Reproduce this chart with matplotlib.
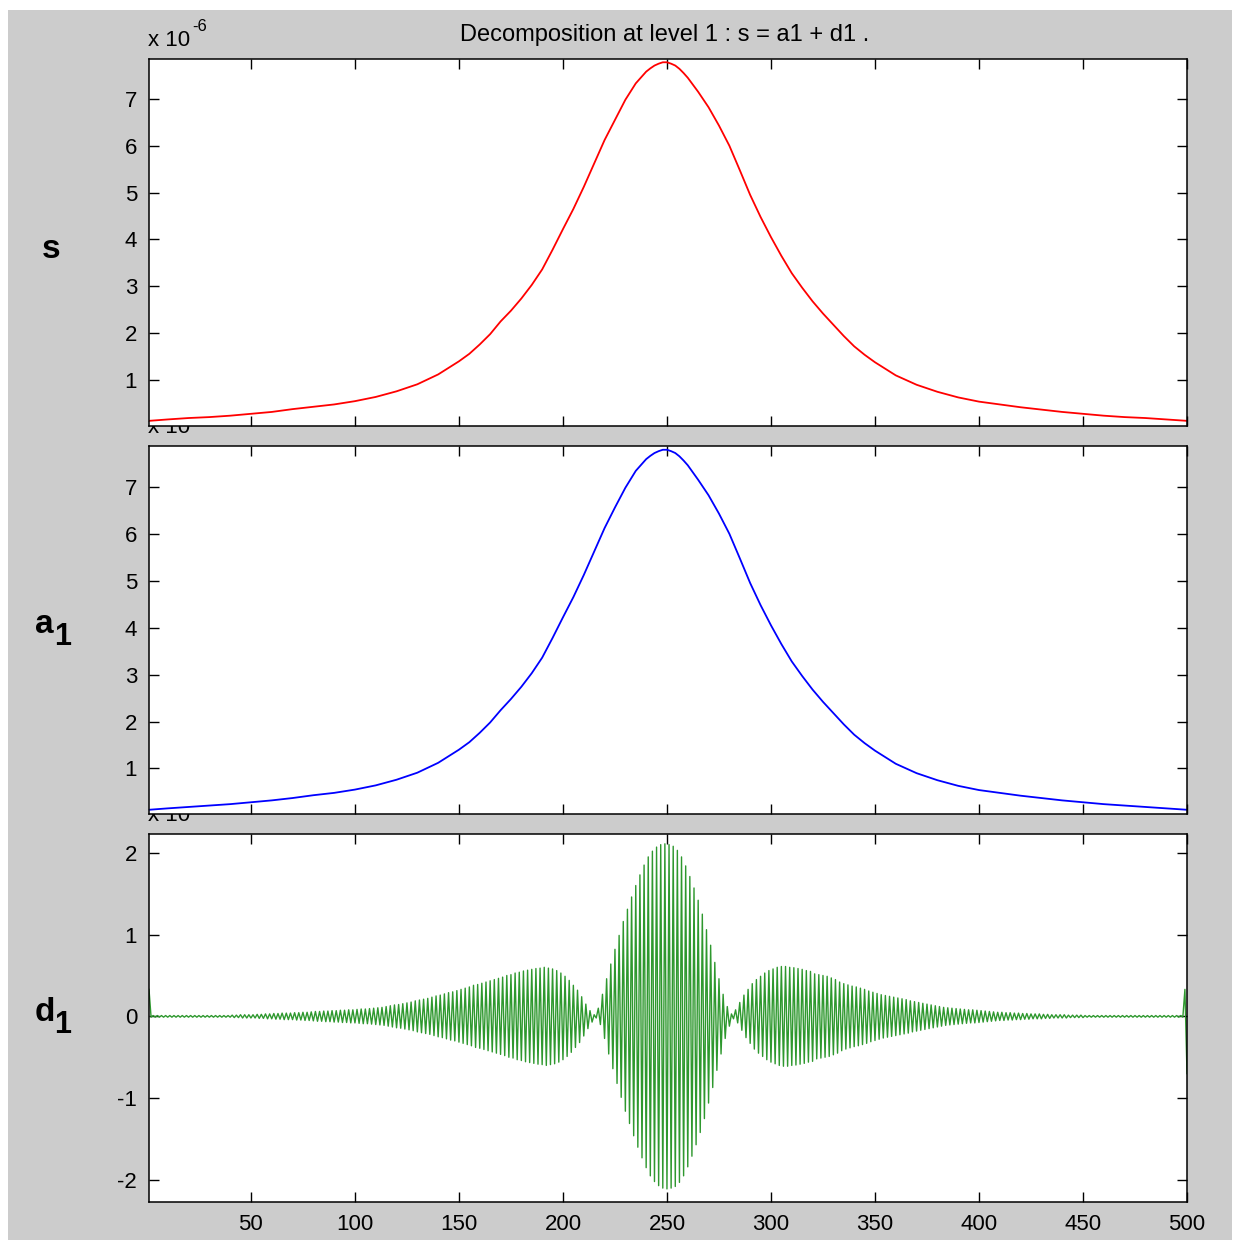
import numpy as np
import matplotlib.pyplot as plt
from matplotlib.patches import Rectangle

W, H = 1237, 1244

# signal s and approximation a1, in units of 1e-6
s_x = [1, 10, 20, 30, 40, 50, 60, 70, 80, 90, 100, 110, 120, 130, 140,
       150, 155, 160, 165, 170, 175, 180, 185, 190, 195, 200, 205, 210, 215,
       220, 225, 230, 235, 240, 242, 244, 246, 248, 250, 252, 254, 256, 258,
       260, 265, 270, 275, 280, 285, 290, 295, 300, 305, 310, 315, 320, 325,
       330, 335, 340, 345, 350, 360, 370, 380, 390, 400, 410, 420, 430, 440,
       450, 460, 470, 480, 490, 500]
s_val = [0.13, 0.16, 0.19, 0.21, 0.24, 0.28, 0.32, 0.38, 0.43, 0.48, 0.55,
         0.64, 0.76, 0.91, 1.12,
         1.40, 1.56, 1.76, 1.98, 2.25, 2.48, 2.74, 3.03, 3.36, 3.78, 4.22,
         4.65, 5.12, 5.62,
         6.12, 6.55, 6.98, 7.33, 7.58, 7.65, 7.71, 7.75, 7.78, 7.78, 7.75,
         7.71, 7.64, 7.55,
         7.45, 7.15, 6.82, 6.43, 6.00, 5.48, 4.95, 4.48, 4.05, 3.65, 3.28,
         2.97, 2.68, 2.42,
         2.18, 1.94, 1.72, 1.54, 1.38, 1.10, 0.90, 0.75, 0.63, 0.54, 0.48,
         0.42, 0.37, 0.32,
         0.28, 0.24, 0.21, 0.19, 0.16, 0.13]
a1_val = [0.12, 0.15, 0.18, 0.21, 0.24, 0.28, 0.32, 0.37, 0.43, 0.48, 0.55,
          0.64, 0.76, 0.91, 1.12,
          1.40, 1.56, 1.76, 1.98, 2.24, 2.48, 2.74, 3.03, 3.36, 3.78, 4.22,
          4.65, 5.12, 5.62,
          6.12, 6.56, 6.98, 7.34, 7.59, 7.66, 7.72, 7.76, 7.79, 7.79, 7.76,
          7.72, 7.65, 7.56,
          7.46, 7.15, 6.82, 6.43, 6.00, 5.48, 4.95, 4.48, 4.05, 3.65, 3.28,
          2.97, 2.68, 2.42,
          2.18, 1.94, 1.72, 1.54, 1.38, 1.10, 0.90, 0.75, 0.63, 0.54, 0.48,
          0.42, 0.37, 0.32,
          0.28, 0.24, 0.21, 0.18, 0.15, 0.12]

# detail d1: odd samples (1, 3, ..., 499) and even samples (2, 4, ..., 500)
d1_odd = [
    0.33, 0.01, 0.01, 0.01, 0.01, 0.01, 0.01, 0.01, 0.01, 0.01,
    0.01, 0.01, 0.01, 0.01, 0.01, 0.01, 0.01, 0.01, 0.01, 0.01,
    0.015, 0.015, 0.02, 0.02, 0.02, 0.02, 0.025, 0.025, 0.03, 0.03,
    0.035, 0.035, 0.04, 0.04, 0.04, 0.045, 0.045, 0.05, 0.05, 0.055,
    0.06, 0.06, 0.065, 0.065, 0.07, 0.07, 0.075, 0.075, 0.08, 0.08,
    0.085, 0.09, 0.09, 0.095, 0.10, 0.105, 0.11, 0.12, 0.13, 0.14,
    0.145, 0.155, 0.165, 0.175, 0.19, 0.20, 0.21, 0.22, 0.235, 0.25,
    0.26, 0.275, 0.29, 0.30, 0.315, 0.33, 0.345, 0.36, 0.38, 0.39,
    0.405, 0.42, 0.435, 0.45, 0.465, 0.48, 0.50, 0.51, 0.53, 0.54,
    0.555, 0.565, 0.575, 0.585, 0.59, 0.60, 0.59, 0.58, 0.56, 0.53,
    0.49, 0.44, 0.38, 0.32, 0.24, 0.15, 0.07, 0.02, 0.10, 0.27,
    0.46, 0.64, 0.82, 0.99, 1.16, 1.31, 1.46, 1.60, 1.73, 1.85,
    1.95, 2.02, 2.07, 2.10, 2.11, 2.10, 2.08, 2.03, 1.95, 1.84,
    1.71, 1.57, 1.42, 1.25, 1.06, 0.87, 0.66, 0.46, 0.27, 0.12,
    0.03, 0.08, 0.17, 0.26, 0.33, 0.40, 0.45, 0.49, 0.53, 0.56,
    0.58, 0.60, 0.61, 0.61, 0.60, 0.595, 0.585, 0.575, 0.56, 0.55,
    0.52, 0.51, 0.50, 0.49, 0.47, 0.45, 0.42, 0.40, 0.385, 0.37,
    0.36, 0.345, 0.33, 0.31, 0.295, 0.28, 0.265, 0.255, 0.245, 0.235,
    0.225, 0.215, 0.205, 0.19, 0.18, 0.17, 0.16, 0.15, 0.14, 0.13,
    0.12, 0.11, 0.105, 0.10, 0.095, 0.09, 0.085, 0.08, 0.08, 0.075,
    0.07, 0.065, 0.06, 0.055, 0.05, 0.05, 0.045, 0.045, 0.04, 0.04,
    0.035, 0.035, 0.03, 0.03, 0.03, 0.025, 0.025, 0.02, 0.02, 0.02,
    0.02, 0.015, 0.015, 0.015, 0.015, 0.01, 0.01, 0.01, 0.01, 0.01,
    0.01, 0.01, 0.01, 0.01, 0.01, 0.01, 0.01, 0.01, 0.01, 0.01,
    0.01, 0.01, 0.01, 0.01, 0.01, 0.01, 0.01, 0.01, 0.01, 0.33,
]
d1_even = [
    -0.01, -0.01, -0.01, -0.01, -0.01, -0.01, -0.01, -0.01, -0.01, -0.01,
    -0.01, -0.01, -0.01, -0.01, -0.01, -0.01, -0.01, -0.01, -0.01, -0.01,
    -0.015, -0.015, -0.02, -0.02, -0.02, -0.02, -0.025, -0.025, -0.03, -0.03,
    -0.035, -0.035, -0.04, -0.04, -0.04, -0.045, -0.045, -0.05, -0.05, -0.055,
    -0.06, -0.06, -0.065, -0.065, -0.07, -0.07, -0.075, -0.075, -0.08, -0.08,
    -0.085, -0.09, -0.09, -0.095, -0.10, -0.105, -0.11, -0.12, -0.13, -0.14,
    -0.145, -0.155, -0.165, -0.175, -0.19, -0.20, -0.21, -0.22, -0.235, -0.25,
    -0.26, -0.275, -0.29, -0.30, -0.315, -0.33, -0.345, -0.36, -0.38, -0.39,
    -0.405, -0.42, -0.435, -0.45, -0.465, -0.48, -0.50, -0.51, -0.53, -0.54,
    -0.555, -0.565, -0.575, -0.585, -0.59, -0.60, -0.59, -0.58, -0.56, -0.53,
    -0.49, -0.44, -0.38, -0.32, -0.24, -0.15, -0.07, -0.02, -0.10, -0.27,
    -0.46, -0.64, -0.82, -0.99, -1.16, -1.31, -1.46, -1.60, -1.73, -1.85,
    -1.95, -2.02, -2.07, -2.10, -2.11, -2.10, -2.08, -2.03, -1.95, -1.84,
    -1.71, -1.57, -1.42, -1.25, -1.06, -0.87, -0.66, -0.46, -0.27, -0.12,
    -0.03, -0.08, -0.17, -0.26, -0.33, -0.40, -0.45, -0.49, -0.53, -0.56,
    -0.58, -0.60, -0.61, -0.61, -0.60, -0.595, -0.585, -0.575, -0.56, -0.55,
    -0.52, -0.51, -0.50, -0.49, -0.47, -0.45, -0.42, -0.40, -0.385, -0.37,
    -0.36, -0.345, -0.33, -0.31, -0.295, -0.28, -0.265, -0.255, -0.245, -0.235,
    -0.225, -0.215, -0.205, -0.19, -0.18, -0.17, -0.16, -0.15, -0.14, -0.13,
    -0.12, -0.11, -0.105, -0.10, -0.095, -0.09, -0.085, -0.08, -0.08, -0.075,
    -0.07, -0.065, -0.06, -0.055, -0.05, -0.05, -0.045, -0.045, -0.04, -0.04,
    -0.035, -0.035, -0.03, -0.03, -0.03, -0.025, -0.025, -0.02, -0.02, -0.02,
    -0.02, -0.015, -0.015, -0.015, -0.015, -0.01, -0.01, -0.01, -0.01, -0.01,
    -0.01, -0.01, -0.01, -0.01, -0.01, -0.01, -0.01, -0.01, -0.01, -0.01,
    -0.01, -0.01, -0.01, -0.01, -0.01, -0.01, -0.01, -0.01, -0.01, -0.70,
]

x_ticks = [50, 100, 150, 200, 250, 300, 350, 400, 450, 500]
level_ticks = [1, 2, 3, 4, 5, 6, 7]
detail_ticks = [-2, -1, 0, 1, 2]

title = 'Decomposition at level 1 : s = a1 + d1 .'
gray = '#cccccc'

plt.rcParams['font.family'] = ['Liberation Sans', 'DejaVu Sans']
plt.rcParams['axes.unicode_minus'] = False


def px_axes(fig, left, top, right, bottom):
    return fig.add_axes([left / W, 1 - bottom / H, (right - left) / W, (bottom - top) / H])


def style(ax, yticks, show_x):
    ax.set_xlim(1, 500)
    ax.set_xticks(x_ticks)
    ax.set_yticks(yticks)
    ax.tick_params(direction='in', length=7.2, width=1.0, top=True, right=True,
                   labelsize=16, pad=8.5, colors='black', labelbottom=show_x)
    for sp in ax.spines.values():
        sp.set_linewidth(1.1)


def exponent(ax, power):
    ax.annotate('x 10', xy=(0, 1), xycoords='axes fraction', xytext=(-1, 13),
                textcoords='offset pixels', fontsize=16, ha='left', va='baseline',
                annotation_clip=False)
    ax.annotate(power, xy=(0, 1), xycoords='axes fraction', xytext=(43, 28),
                textcoords='offset pixels', fontsize=12, ha='left', va='baseline',
                annotation_clip=False)


fig = plt.figure(figsize=(W / 100, H / 100), dpi=100)
fig.patch.set_facecolor('white')
fig.patches.append(Rectangle((8 / W, 4 / H), 1224 / W, 1230 / H,
                             transform=fig.transFigure, facecolor=gray,
                             edgecolor='none', zorder=0))

ax_s = px_axes(fig, 149, 59, 1187, 426)
ax_a = px_axes(fig, 149, 446, 1187, 814)
ax_d = px_axes(fig, 149, 834, 1187, 1202)
# upper panels are drawn last so they hide the exponent labels below them
ax_s.set_zorder(3)
ax_a.set_zorder(2)
ax_d.set_zorder(1)

ax_s.plot(s_x, s_val, color='#ff0000', lw=1.3)
ax_s.set_ylim(0.02, 7.85)
style(ax_s, level_ticks, False)
exponent(ax_s, '-6')

ax_a.plot(s_x, a1_val, color='#0000ff', lw=1.3)
ax_a.set_ylim(0.03, 7.87)
style(ax_a, level_ticks, False)
exponent(ax_a, '-6')

n = np.arange(1, 501)
d1 = np.empty(500)
d1[0::2] = d1_odd
d1[1::2] = d1_even
ax_d.plot(n, d1, color='#2e982e', lw=1.0)
ax_d.set_ylim(-2.27, 2.23)
style(ax_d, detail_ticks, True)
exponent(ax_d, '-7')

fig.text(665 / W, 1 - 41 / H, title, ha='center', va='baseline', fontsize=17)

# panel names
fig.text(51 / W, 1 - 258 / H, 's', ha='center', va='baseline', fontsize=24, fontweight='bold')
fig.text(35 / W, 1 - 633 / H, 'a', ha='left', va='baseline', fontsize=24, fontweight='bold')
fig.text(54 / W, 1 - 645 / H, '1', ha='left', va='baseline', fontsize=22, fontweight='bold')
fig.text(35 / W, 1 - 1021 / H, 'd', ha='left', va='baseline', fontsize=24, fontweight='bold')
fig.text(54 / W, 1 - 1033 / H, '1', ha='left', va='baseline', fontsize=22, fontweight='bold')

fig.savefig('out.png', dpi=100, facecolor=fig.get_facecolor())
